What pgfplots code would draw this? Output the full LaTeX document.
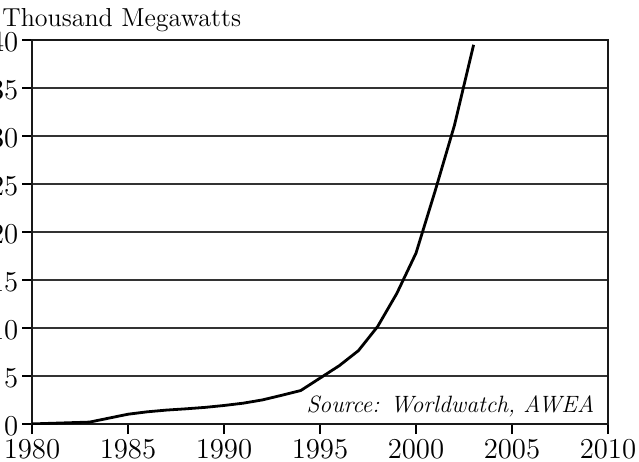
\documentclass[border=0pt]{standalone}
\usepackage{pgfplots}
\pgfplotsset{compat=1.18}
\begin{document}
\fontsize{13}{16}\selectfont
\begin{tikzpicture}
\begin{axis}[
  scale only axis,
  width=288pt, height=192pt,
  xmin=1980, xmax=2010, ymin=0, ymax=40,
  xtick={1980,1985,...,2010}, ytick={0,5,...,40},
  /pgf/number format/1000 sep={},
  tick align=outside, major tick length=5pt,
  tick style={black, line width=0.6pt},
  axis line style={line width=1.4pt, black!90},
  ymajorgrids, grid style={line width=0.8pt, black!80},
  xtick pos=bottom, ytick pos=left,
  ticklabel style={font=\fontsize{13.5}{16}\selectfont, inner sep=1pt},
  yticklabel style={xshift=-0.7pt, yshift=-1pt},
  xticklabel style={yshift=-2pt},
]
\addplot[black, line width=1.4pt] coordinates {
(1980,0.01) (1983,0.2) (1985,1.02) (1986,1.27) (1987,1.45) (1988,1.58)
(1989,1.73) (1990,1.93) (1991,2.17) (1992,2.51) (1993,2.99) (1994,3.49)
(1995,4.78) (1996,6.07) (1997,7.64) (1998,10.15) (1999,13.6) (2000,17.8)
(2001,24.3) (2002,31.1) (2003,39.5)};
\node[anchor=base east, inner sep=0pt, font=\itshape\fontsize{11.8}{14}\selectfont] at (axis cs:2009.3,1.15) {Source: Worldwatch, AWEA};
\end{axis}
\node[anchor=base west, inner sep=0pt] at ([xshift=-15pt,yshift=7pt]current axis.north west) {Thousand Megawatts};
\pgfresetboundingbox
\path[use as bounding box] ([xshift=-16pt,yshift=-18.5pt]current axis.south west) rectangle ([xshift=15.5pt,yshift=20pt]current axis.north east);
\end{tikzpicture}
\end{document}
